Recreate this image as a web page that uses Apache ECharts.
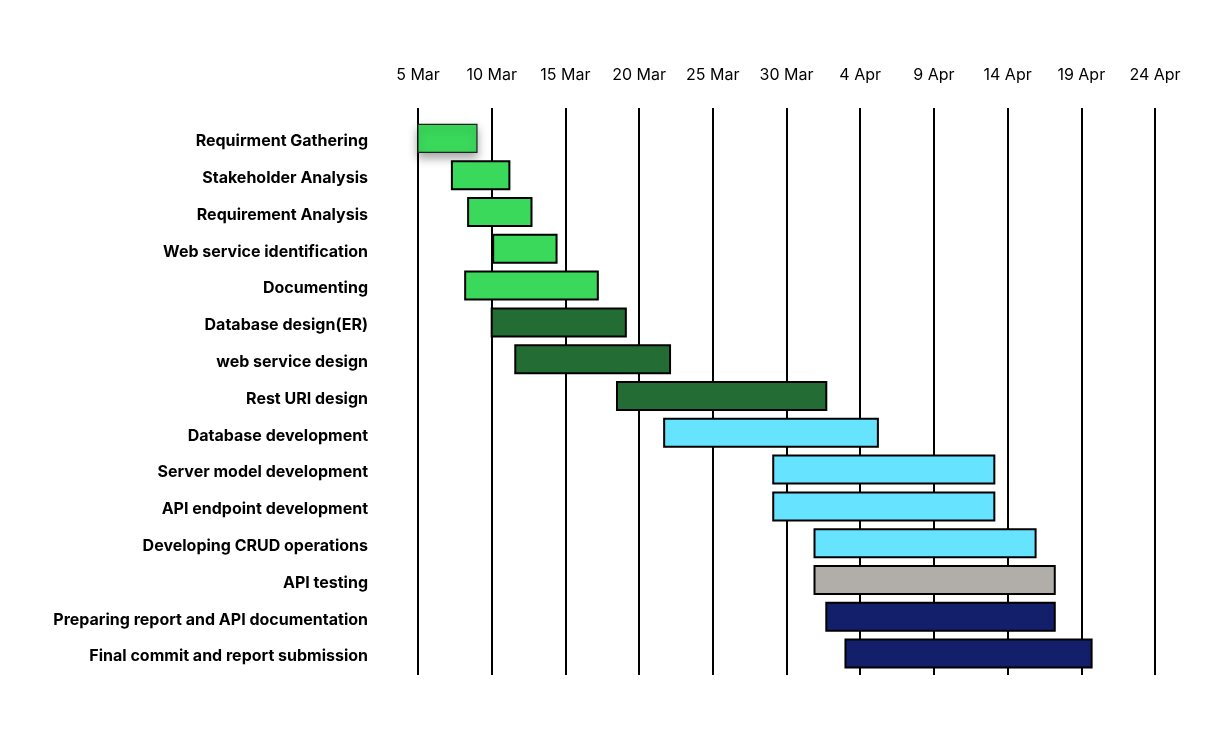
<!DOCTYPE html>
<html>
<head>
<meta charset="utf-8">
<script src="https://cdn.jsdelivr.net/npm/echarts@6/dist/echarts.min.js"></script>
<style>
  html, body { margin: 0; padding: 0; background: #ffffff; }
  #chart { width: 1221px; height: 739px; }
</style>
</head>
<body>
<div id="chart"></div>
<script>
// ---- data (days counted from 5 Mar, the project start) ----
var tickLabels = ['5 Mar', '10 Mar', '15 Mar', '20 Mar', '25 Mar', '30 Mar', '4 Apr', '9 Apr', '14 Apr', '19 Apr', '24 Apr'];
var tickStepDays = 5;
var tasks = [
  'Requirment Gathering',
  'Stakeholder Analysis',
  'Requirement Analysis',
  'Web service identification',
  'Documenting',
  'Database design(ER)',
  'web service design',
  'Rest URI design',
  'Database development',
  'Server model development',
  'API endpoint development',
  'Developing CRUD operations',
  'API testing',
  'Preparing report and API documentation',
  'Final commit and report submission'
];
var startDay = [0, 2.3, 3.4, 5.1, 3.2, 5.0, 6.6, 13.5, 16.7, 24.1, 24.1, 26.9, 26.9, 27.7, 29.0];
var endDay   = [4.0, 6.2, 7.7, 9.4, 12.2, 14.1, 17.1, 27.7, 31.2, 39.1, 39.1, 41.9, 43.2, 43.2, 45.7];
var phase = ['analysis', 'analysis', 'analysis', 'analysis', 'analysis',
             'design', 'design', 'design',
             'development', 'development', 'development', 'development',
             'testing', 'documentation', 'documentation'];

// ---- styling ----
var phaseColor = {
  analysis: '#3ad95b',
  design: '#236d35',
  development: '#66e3ff',
  testing: '#b1aeaa',
  documentation: '#131f6a'
};
var FONT = 'Inter, "Noto Sans", sans-serif';
var xMin = 0, xMax = (tickLabels.length - 1) * tickStepDays;
var gridLeft = 418, gridRight = 66;

var seriesData = tasks.map(function (t, i) {
  return [i, startDay[i], endDay[i], phase[i]];
});

var chart = echarts.init(document.getElementById('chart'), null, { renderer: 'canvas' });
chart.setOption({
  backgroundColor: '#ffffff',
  animation: false,
  grid: [
    { left: gridLeft, right: gridRight, top: 108, bottom: 64 },   // vertical lines + date labels
    { left: gridLeft, right: gridRight, top: 120, bottom: 67 },   // bars
    { left: gridLeft, right: gridRight, top: 123, bottom: 64 }    // task labels
  ],
  xAxis: [
    {
      gridIndex: 0, type: 'value', position: 'top',
      min: xMin, max: xMax, interval: tickStepDays,
      axisLine: { show: false }, axisTick: { show: false },
      axisLabel: {
        margin: 25, fontFamily: FONT, fontSize: 16, color: '#000',
        formatter: function (v) { return tickLabels[Math.round(v / tickStepDays)] || ''; }
      },
      splitLine: { show: true, lineStyle: { color: '#000', width: 2 } }
    },
    {
      gridIndex: 1, type: 'value', min: xMin, max: xMax, show: false,
      splitLine: { show: false }
    },
    {
      gridIndex: 2, type: 'value', min: xMin, max: xMax, show: false,
      splitLine: { show: false }
    }
  ],
  yAxis: [
    { gridIndex: 0, type: 'value', show: false, splitLine: { show: false } },
    {
      gridIndex: 1, type: 'category', data: tasks, inverse: true, show: false
    },
    {
      gridIndex: 2, type: 'category', data: tasks, inverse: true,
      axisLine: { show: false }, axisTick: { show: false },
      axisLabel: {
        margin: 50, fontFamily: FONT, fontSize: 16, fontWeight: 'bold', color: '#000'
      }
    }
  ],
  series: [{
    type: 'custom',
    xAxisIndex: 1, yAxisIndex: 1,
    encode: { x: [1, 2], y: 0 },
    data: seriesData,
    renderItem: function (params, api) {
      var idx = api.value(0);
      var s = api.coord([api.value(1), idx]);
      var e = api.coord([api.value(2), idx]);
      var h = 28;
      var first = params.dataIndex === 0;
      var style = {
        fill: phaseColor[seriesData[params.dataIndex][3]],
        stroke: first ? '#222' : '#000',
        lineWidth: first ? 1.2 : 2
      };
      if (first) {
        style.shadowBlur = 10;
        style.shadowOffsetY = 5;
        style.shadowColor = 'rgba(0,0,0,0.35)';
      }
      return {
        type: 'rect',
        shape: { x: s[0], y: s[1] - h / 2, width: e[0] - s[0], height: h },
        style: style
      };
    }
  }]
});
</script>
</body>
</html>
